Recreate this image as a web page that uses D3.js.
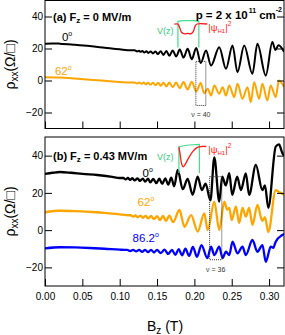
<!DOCTYPE html>
<html>
<head>
<meta charset="utf-8">
<script src="https://cdn.jsdelivr.net/npm/d3@7"></script>
<style>
body { margin: 0; background: #fff; }
text { font-family: "Liberation Sans", Arial, Helvetica, sans-serif; }
</style>
</head>
<body>
<div id="graph"></div>
<script>
// ticks
var xTicks = [0, 0.05, 0.10, 0.15, 0.20, 0.25, 0.30];
var yTicks = [-20, 0, 20, 40];

// panel (a) F_z = 0 MV/m, [B (T), rho_xx]
var a0deg = [[0,23.0],[0.01,23.2],[0.02,23.0],[0.04,22.3],[0.06,21.5],[0.08,20.5],[0.10,19.5],[0.115,18.9],
  [0.120,18.9],[0.1235,18.2],[0.1257,18.6],[0.128,17.9],[0.1305,18.4],[0.133,17.5],[0.1357,18.3],[0.1385,17.2],
  [0.1415,18.2],[0.1445,16.9],[0.148,18.2],[0.151,16.5],[0.155,18.3],[0.1585,16.0],[0.1625,18.5],[0.1665,15.5],
  [0.171,18.8],[0.1755,15.0],[0.1805,19.3],[0.1855,14.3],[0.191,19.8],[0.1965,13.3],[0.2025,20.3],[0.2085,11.0],
  [0.2156,18.8],[0.2223,9.4],[0.2333,20.8],[0.2423,7.3],[0.2511,21.9],[0.2577,5.2],[0.2667,21.9],[0.2777,4.2],
  [0.2844,22.9],[0.2956,3.1],[0.3044,24.0],[0.3085,19.0],[0.3125,22.0],[0.32,18.0]];
var a62deg = [[0,2.0],[0.02,1.8],[0.04,1.2],[0.06,0.5],[0.08,-0.2],[0.10,-0.9],[0.115,-1.3],
  [0.120,-1.2],[0.123,-1.9],[0.126,-1.2],[0.129,-2.1],[0.132,-1.3],[0.135,-2.4],[0.138,-1.4],[0.141,-2.7],
  [0.1445,-1.4],[0.148,-3.0],[0.1515,-1.4],[0.155,-3.3],[0.1585,-1.4],[0.1625,-3.7],[0.1665,-1.3],[0.171,-4.2],
  [0.1755,-1.2],[0.1805,-4.8],[0.1855,-1.0],[0.191,-5.6],[0.1965,-0.8],[0.2025,-6.8],[0.2085,-1.5],[0.2130,-8.0],
  [0.2178,-5.2],[0.2223,-9.4],[0.2267,-3.1],[0.2333,-8.3],[0.2378,-4.2],[0.2423,-9.4],[0.2467,-3.1],[0.2533,-10.4],
  [0.2578,-2.1],[0.2644,-11.4],[0.2711,-4.2],[0.2756,-13.6],[0.2800,-1.1],[0.2867,-11.4],[0.2911,-2.1],[0.2978,-12.5],
  [0.3022,-3.1],[0.3089,-10.4],[0.3133,0.0],[0.32,-4.0]];

// panel (b) F_z = 0.43 MV/m
var b0deg = [[0,30.2],[0.01,30.8],[0.02,31.2],[0.035,30.8],[0.05,30.2],[0.07,29.6],[0.09,28.6],[0.10,28.0],
  [0.105,28.0],[0.108,27.2],[0.111,28.0],[0.114,27.0],[0.117,27.9],[0.120,26.7],[0.124,27.8],[0.127,26.4],
  [0.131,27.7],[0.134,26.0],[0.138,27.6],[0.141,25.6],[0.145,27.5],[0.149,25.2],[0.153,27.6],[0.157,24.8],
  [0.161,27.8],[0.165,24.4],[0.169,28.2],[0.173,23.5],[0.1777,32.3],[0.1844,22.0],[0.1910,27.5],[0.1977,19.0],
  [0.2044,28.7],[0.2100,21.5],[0.2150,25.0],[0.2215,16.0],[0.2267,39.0],[0.2333,15.3],[0.2373,28.7],[0.2420,24.0],
  [0.2467,30.6],[0.2507,18.9],[0.2573,28.7],[0.2623,21.5],[0.2689,30.5],[0.2733,18.9],[0.2823,35.0],[0.2910,21.5],
  [0.2945,24.0],[0.2990,12.0],[0.3089,44.8],[0.3133,46.0],[0.3177,41.4],[0.32,40.0]];
var b62deg = [[0,9.6],[0.02,10.4],[0.04,10.2],[0.06,9.8],[0.08,9.3],[0.10,8.5],[0.112,8.0],
  [0.115,8.0],[0.118,7.2],[0.121,7.9],[0.124,6.9],[0.128,7.8],[0.131,6.6],[0.135,7.7],[0.138,6.3],
  [0.142,7.6],[0.146,5.9],[0.150,7.5],[0.154,5.4],[0.158,7.6],[0.162,4.9],[0.1665,7.8],[0.1715,4.3],
  [0.1800,10.8],[0.1867,1.8],[0.1956,8.1],[0.2044,-0.8],[0.2133,9.0],[0.2178,0.0],[0.2267,15.3],[0.2333,0.0],
  [0.2400,15.3],[0.2440,11.0],[0.2467,12.0],[0.2500,5.4],[0.2556,12.6],[0.2600,3.8],[0.2644,12.0],[0.2689,7.2],
  [0.2733,12.0],[0.2778,2.8],[0.2844,13.5],[0.2910,5.0],[0.2945,7.0],[0.2990,-1.0],[0.3089,21.5],[0.3133,20.5],
  [0.3177,19.5],[0.32,19.0]];
var b86deg = [[0,-9.8],[0.02,-9.2],[0.04,-9.3],[0.06,-9.6],[0.08,-10.0],[0.10,-10.5],[0.107,-10.6],
  [0.110,-10.6],[0.114,-11.2],[0.118,-10.6],[0.122,-11.4],[0.126,-10.6],[0.130,-11.6],[0.134,-10.6],[0.138,-11.8],
  [0.142,-10.6],[0.146,-12.0],[0.150,-10.6],[0.155,-12.3],[0.160,-10.5],[0.165,-12.8],[0.170,-10.6],[0.1745,-13.3],
  [0.179,-10.2],[0.1835,-13.5],[0.188,-10.0],[0.193,-13.8],[0.198,-9.0],[0.2035,-14.3],[0.2095,-8.0],[0.2173,-15.0],
  [0.2223,-8.9],[0.2267,-13.4],[0.2333,-8.9],[0.2377,-15.0],[0.2423,-11.6],[0.2467,-13.4],[0.2511,-6.2],[0.2577,-12.5],
  [0.2644,-8.9],[0.2689,-13.4],[0.2777,-5.3],[0.2844,-11.6],[0.2911,-8.0],[0.2956,-17.0],[0.3023,-8.9],[0.3056,-9.5],
  [0.3089,-6.2],[0.3177,-2.6],[0.32,-2.0]];

// filling factor boxes [B left, B right, rho top, rho bottom]
var nu40Box = [0.202, 0.2153, 11.9, -15.6];
var nu36Box = [0.2204, 0.2367, 28.7, -15.9];

// insets: potential V(z) and |psi_H1|^2, [B, rho]
var vzA = [[0.178,20.6],[0.178,37.0],[0.185,37.4],[0.192,37.5],[0.199,37.4],[0.206,37.0],[0.206,20.6]];
var psiA = [[0.1733,35.3],[0.1778,35.3],[0.1800,33.5],[0.1830,30.0],[0.1870,29.1],[0.1910,29.4],[0.1950,29.1],
  [0.1985,30.5],[0.2010,34.0],[0.2035,35.3],[0.2173,35.3]];
var vzB = [[0.1793,30.7],[0.1793,44.8],[0.186,45.3],[0.193,45.7],[0.2067,46.0],[0.2067,30.7]];
var psiB = [[0.1793,44.6],[0.1810,40.5],[0.1830,35.5],[0.1850,34.0],[0.1875,35.2],[0.1920,38.5],[0.1980,42.3],
  [0.2040,44.4],[0.2100,44.9],[0.2160,44.9]];

var width = 285;
var height = 335;
var left = 45, right = 284;

var svg = d3.select("#graph").append("svg")
    .attr("width", width)
    .attr("height", height);

var x = d3.scaleLinear().domain([0, 0.32]).range([left, right]);

var panels = [
  { top: 0.5, bottom: 128.5, sw: 2.0,
    series: [{ d: a0deg, c: "#000" }, { d: a62deg, c: "#ffa500" }],
    label: ["(a) F", "z", " = 0 MV/m"], box: nu40Box, nu: "\u03bd = 40",
    vz: vzA, psi: psiA },
  { top: 137, bottom: 286, sw: 2.3,
    series: [{ d: b86deg, c: "#0000ff" }, { d: b62deg, c: "#ffa500" }, { d: b0deg, c: "#000" }],
    label: ["(b) F", "z", " = 0.43 MV/m"], box: nu36Box, nu: "\u03bd = 36",
    vz: vzB, psi: psiB }
];

panels.forEach(function (p, i) {
  var y = d3.scaleLinear().domain([-30, 50]).range([p.bottom, p.top]);
  p.y = y;
  var g = svg.append("g");

  var clipId = "clip" + i;
  svg.append("clipPath").attr("id", clipId).append("rect")
      .attr("x", left).attr("y", p.top).attr("width", right - left).attr("height", p.bottom - p.top);

  // curves
  var line = d3.line()
      .x(function (d) { return x(d[0]); })
      .y(function (d) { return y(d[1]); })
      .curve(d3.curveMonotoneX);
  g.append("g").attr("clip-path", "url(#" + clipId + ")")
    .selectAll("path").data(p.series).enter().append("path")
      .attr("d", function (s) { return line(s.d); })
      .attr("fill", "none")
      .attr("stroke", function (s) { return s.c; })
      .attr("stroke-width", p.sw)
      .attr("stroke-linejoin", "round");

  // dotted box
  g.append("rect")
      .attr("x", x(p.box[0])).attr("y", y(p.box[2]))
      .attr("width", x(p.box[1]) - x(p.box[0]))
      .attr("height", y(p.box[3]) - y(p.box[2]))
      .attr("fill", "none").attr("stroke", "#333")
      .attr("stroke-width", 1).attr("stroke-dasharray", "1,1");
  g.append("text")
      .attr("x", (x(p.box[0]) + x(p.box[1])) / 2)
      .attr("y", y(p.box[3]) + 12)
      .attr("text-anchor", "middle")
      .style("font-size", "7px").style("fill", "#333")
      .text(p.nu);

  // inset
  var lin = d3.line().x(function (d) { return x(d[0]); }).y(function (d) { return y(d[1]); });
  g.append("path").attr("d", lin.curve(d3.curveLinear)(p.vz))
      .attr("fill", "none").attr("stroke", "#44dd88").attr("stroke-width", 1.2);
  g.append("path").attr("d", lin.curve(d3.curveCatmullRom)(p.psi))
      .attr("fill", "none").attr("stroke", "#ff1a1a").attr("stroke-width", 1.3);
  var vzTop = p.vz[1];
  g.append("text")
      .attr("x", x(0.161)).attr("y", y(vzTop[1]) + 13)
      .attr("text-anchor", "middle")
      .style("font-size", "9px").style("fill", "#33cc77")
      .text("V(z)");
  var pt = g.append("text")
      .attr("x", x(0.2173) + 1).attr("y", y(p.psi[p.psi.length - 1][1]) + 7)
      .style("font-size", "9.5px").style("fill", "#ff1a1a");
  pt.append("tspan").text("|\u03c8");
  pt.append("tspan").attr("dy", 2).style("font-size", "6px").text("H1");
  pt.append("tspan").attr("dy", -2).text("|");
  pt.append("tspan").attr("dy", -5).style("font-size", "6.5px").text("2");

  // frame
  g.append("rect")
      .attr("x", left).attr("y", p.top).attr("width", right - left).attr("height", p.bottom - p.top)
      .attr("fill", "none").attr("stroke", "#000").attr("stroke-width", 1);

  // y axis left
  var yAxis = d3.axisLeft(y).tickValues(yTicks).tickSizeInner(-7).tickSizeOuter(0).tickPadding(2);
  var ya = g.append("g").attr("transform", "translate(" + left + ",0)").call(yAxis);
  // y axis right
  var yAxisR = d3.axisRight(y).tickValues(yTicks).tickSizeInner(-7).tickSizeOuter(0).tickFormat("");
  var yr = g.append("g").attr("transform", "translate(" + right + ",0)").call(yAxisR);
  // x axis
  var xAxis = d3.axisBottom(x).tickValues(xTicks).tickSizeInner(-7).tickSizeOuter(0).tickPadding(7)
      .tickFormat(i === 1 ? d3.format(".2f") : "");
  var xa = g.append("g").attr("transform", "translate(0," + p.bottom + ")").call(xAxis);
  [ya, yr, xa].forEach(function (a) {
    a.select(".domain").remove();
    a.selectAll("text").style("font-size", "10px")
      .style("font-family", "'Liberation Sans', Arial, sans-serif").attr("fill", "#000");
    a.selectAll("line").attr("stroke", "#000");
  });

  // y label
  var yl = g.append("text")
      .attr("text-anchor", "middle")
      .attr("transform", "translate(15," + ((p.top + p.bottom) / 2) + ") rotate(-90)")
      .style("font-size", "14px");
  yl.append("tspan").text("\u03c1");
  yl.append("tspan").attr("dy", 3).style("font-size", "10px").text("xx");
  yl.append("tspan").attr("dy", -3).text("(\u03a9/\u25a1)");

  // panel label
  var pl = g.append("text")
      .attr("x", left + 8).attr("y", y(40) + 4)
      .style("font-size", "11px").style("font-weight", "bold");
  pl.append("tspan").text(p.label[0]);
  pl.append("tspan").attr("dy", 2.5).style("font-size", "8px").text(p.label[1]);
  pl.append("tspan").attr("dy", -2.5).text(p.label[2]);
});

// curve labels
function degLabel(panel, b, r, txt, color) {
  var t = svg.append("text")
      .attr("x", x(b)).attr("y", panel.y(r))
      .style("font-size", "11.5px").style("fill", color);
  t.append("tspan").text(txt);
  t.append("tspan").attr("dy", -5).style("font-size", "7px").text("o");
}
degLabel(panels[0], 0.0227, 24.4, "0", "#000");
degLabel(panels[0], 0.0133, 3.4, "62", "#ffa500");
degLabel(panels[1], 0.1307, 28.5, "0", "#000");
degLabel(panels[1], 0.1240, 13.0, "62", "#ffa500");
degLabel(panels[1], 0.1173, -6.4, "86.2", "#0000ff");

// density
var dens = svg.append("text")
    .attr("x", 282).attr("y", 19)
    .attr("text-anchor", "end")
    .style("font-size", "11.5px").style("font-weight", "bold");
dens.append("tspan").text("p = 2 x 10");
dens.append("tspan").attr("dy", -6).attr("dx", 1).style("font-size", "7px").text("11");
dens.append("tspan").attr("dy", 6).attr("dx", 3).text("cm");
dens.append("tspan").attr("dy", -7).style("font-size", "7px").text("-2");

// x label
var xl = svg.append("text")
    .attr("x", 165).attr("y", 331)
    .attr("text-anchor", "middle")
    .style("font-size", "14px");
xl.append("tspan").text("B");
xl.append("tspan").attr("dy", 3).style("font-size", "10px").text("z");
xl.append("tspan").attr("dy", -3).text(" (T)");
</script>
</body>
</html>
